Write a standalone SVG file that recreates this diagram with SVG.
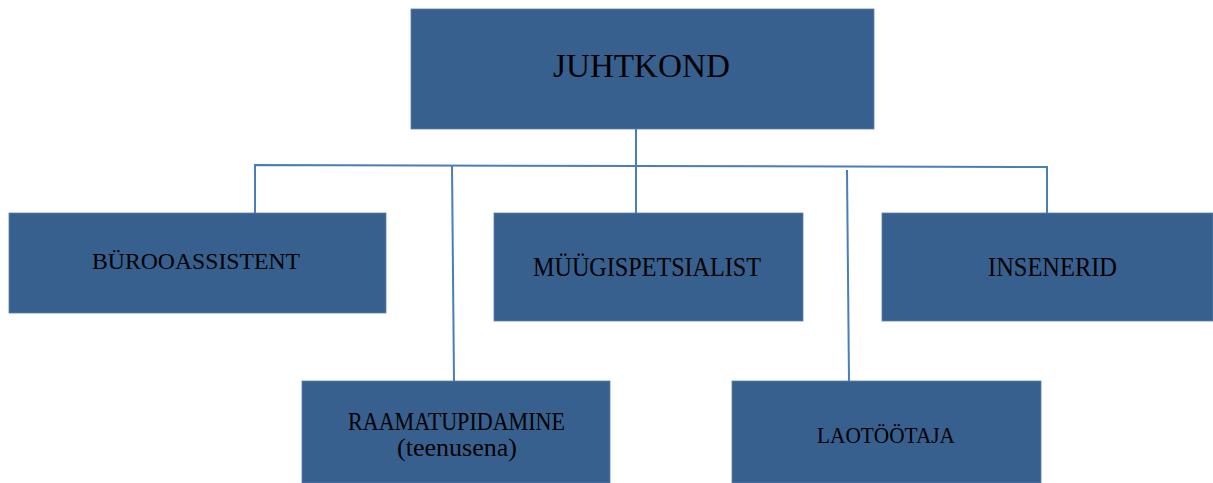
<svg xmlns="http://www.w3.org/2000/svg" width="1213" height="483" viewBox="0 0 1213 483">
<style>
.box{fill:#37608f;stroke:#5a80b0;stroke-width:0.8}
.t{font-family:"Liberation Serif","DejaVu Serif",serif;fill:#000;text-anchor:middle}
.c{fill:none;stroke:#4a7ebb;stroke-width:2}
</style>
<rect x="0" y="0" width="1213" height="483" fill="#fff"/>
<g id="connectors">
<polyline class="c" points="255,213 255,165 1047,167 1047,213"/>
<line class="c" x1="636" y1="129" x2="636" y2="213"/>
<line class="c" x1="452" y1="165" x2="454" y2="381"/>
<line class="c" x1="847" y1="170" x2="849" y2="381"/>
</g>
<g id="juhtkond">
<rect class="box" x="411" y="9" width="463" height="120"/>
<text class="t" x="641.5" y="77" font-size="33" textLength="177" lengthAdjust="spacingAndGlyphs">JUHTKOND</text>
</g>
<g id="burooassistent">
<rect class="box" x="9" y="213" width="377" height="100"/>
<text class="t" x="196" y="269" font-size="24" textLength="208" lengthAdjust="spacingAndGlyphs">BÜROOASSISTENT</text>
</g>
<g id="muugispetsialist">
<rect class="box" x="494" y="213" width="309" height="108"/>
<text class="t" x="647" y="276" font-size="27" textLength="228" lengthAdjust="spacingAndGlyphs">MÜÜGISPETSIALIST</text>
</g>
<g id="insenerid">
<rect class="box" x="882" y="213" width="331" height="108"/>
<text class="t" x="1052.5" y="276" font-size="27" textLength="129" lengthAdjust="spacingAndGlyphs">INSENERID</text>
</g>
<g id="raamatupidamine">
<rect class="box" x="302" y="381" width="308" height="102"/>
<text class="t" x="456.5" y="430" font-size="25" textLength="217" lengthAdjust="spacingAndGlyphs">RAAMATUPIDAMINE</text>
<text class="t" x="457" y="456" font-size="25" textLength="120" lengthAdjust="spacingAndGlyphs">(teenusena)</text>
</g>
<g id="laotootaja">
<rect class="box" x="732" y="381" width="309" height="102"/>
<text class="t" x="886" y="443" font-size="23" textLength="138" lengthAdjust="spacingAndGlyphs">LAOTÖÖTAJA</text>
</g>
</svg>
